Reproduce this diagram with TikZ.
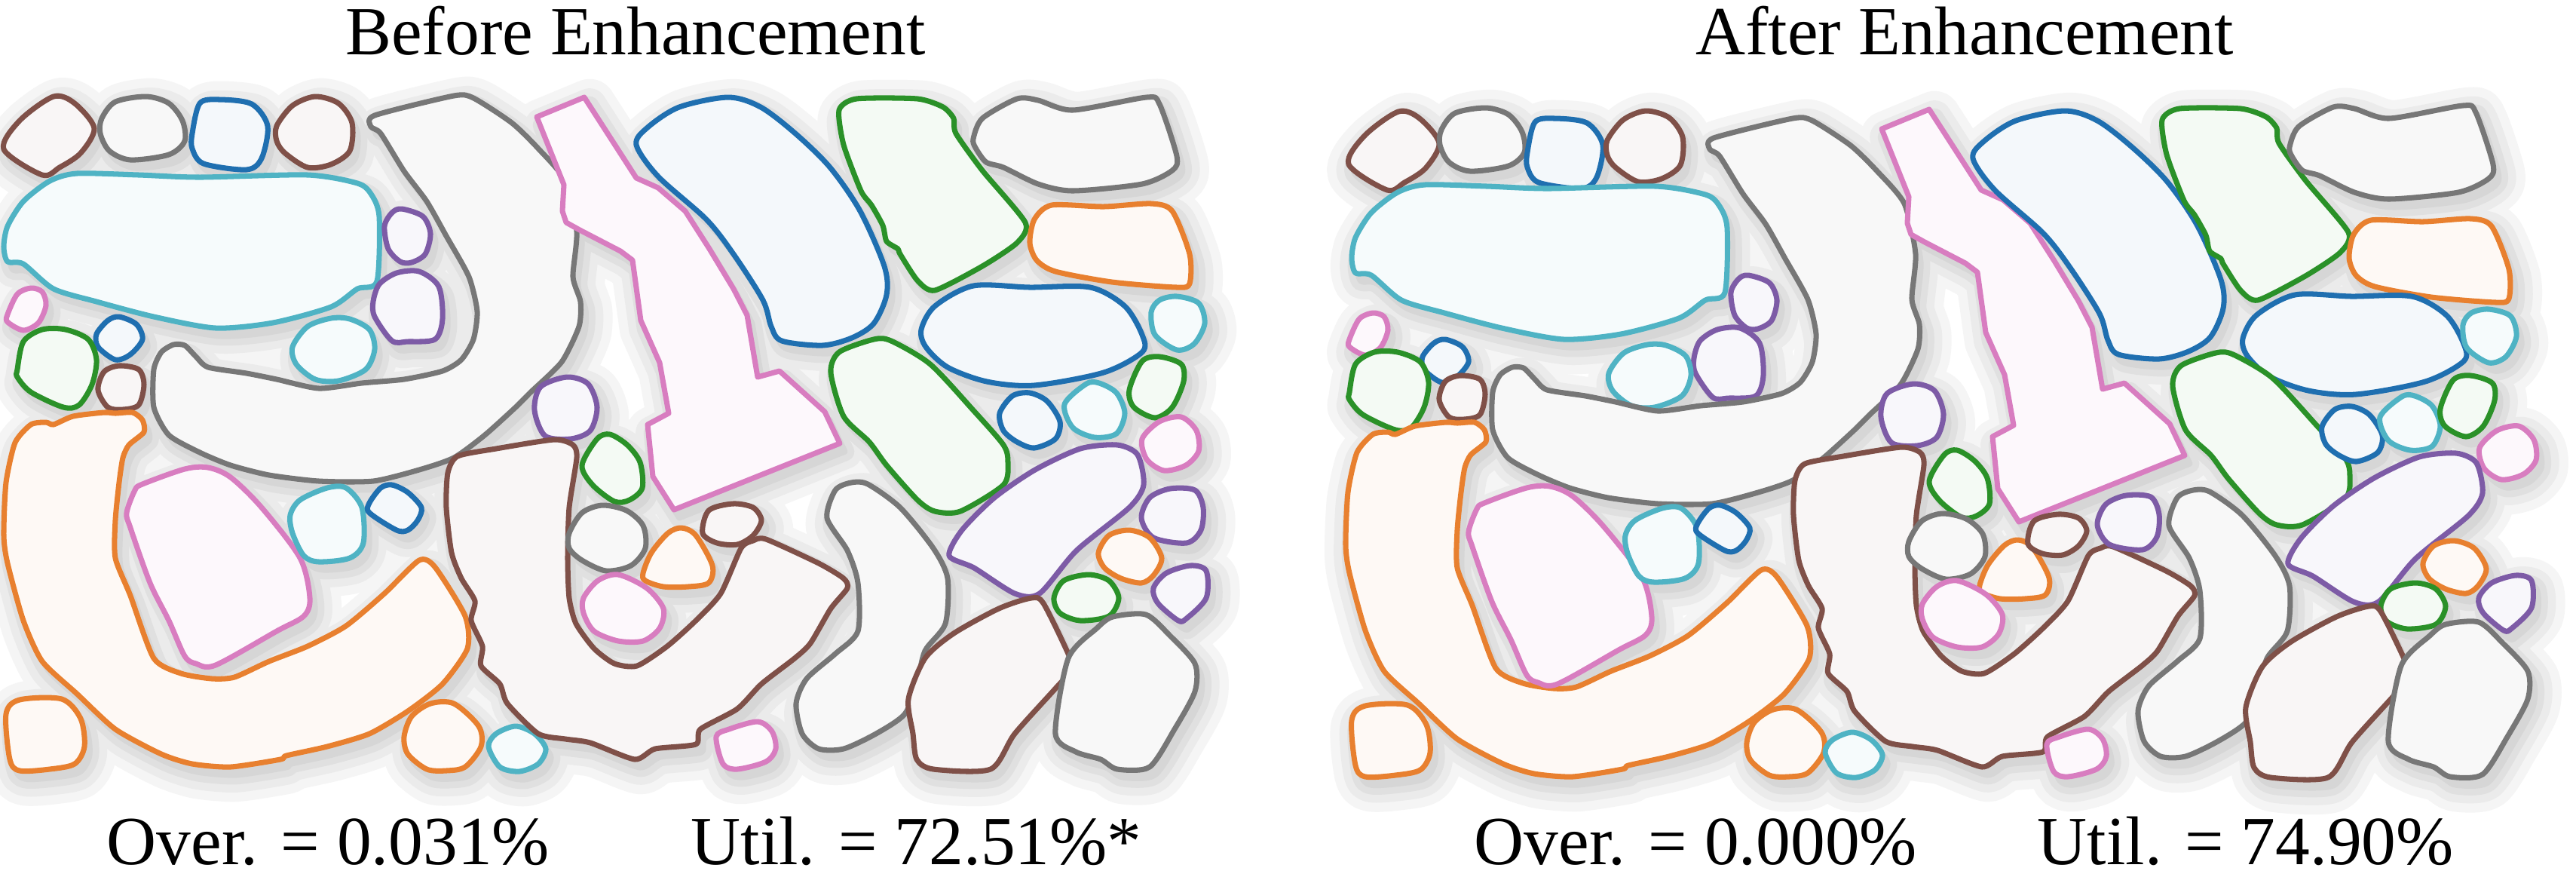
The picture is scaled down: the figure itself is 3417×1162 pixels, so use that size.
\documentclass[tikz,border=0pt]{standalone}
\usepackage{fontspec}
\setmainfont{Liberation Serif}
\definecolor{cb}{HTML}{1F6FB0}
\definecolor{co}{HTML}{E8802F}
\definecolor{cg}{HTML}{2A9128}
\definecolor{cp}{HTML}{D87DC0}
\definecolor{cu}{HTML}{7D5BA6}
\definecolor{cr}{HTML}{7F5048}
\definecolor{cy}{HTML}{777777}
\definecolor{cc}{HTML}{4FB3C4}
\newif\ifrightpanel
\newif\ifshadowpass
\tikzset{
 shadowlvl/.style={},
 shapestyle/.style={draw=#1, fill=#1!5, line width=2pt, line join=round},
 lbl/.style={font=\fontsize{26}{30}\selectfont, inner sep=0pt}
}
\newcommand\SetOff[2]{\expandafter\def\csname off#1\endcsname{#2}}
\newcommand\GetOff[1]{\ifrightpanel\ifcsname off#1\endcsname\edef\myoff{\csname off#1\endcsname}\else\def\myoff{0,0}\fi\else\def\myoff{0,0}\fi}
\newcommand\Sm[4][0.5]{\GetOff{#2}\ifshadowpass
  \path[shift={(\myoff)},shadowlvl] plot[smooth cycle,tension=#1] coordinates {#4};\else
  \path[shift={(\myoff)},shapestyle=#3] plot[smooth cycle,tension=#1] coordinates {#4};\fi}
\newcommand\Pg[3]{\GetOff{#1}\ifshadowpass
  \path[shift={(\myoff)},shadowlvl] plot coordinates {#3} -- cycle;\else
  \path[shift={(\myoff)},shapestyle=#2] plot coordinates {#3} -- cycle;\fi}
% right panel extra offsets
\SetOff{a1}{14,7}\SetOff{a2}{7,2}\SetOff{a3}{1,12}\SetOff{a4}{-5,6}\SetOff{a5}{18,2}
\SetOff{a6}{16,75}\SetOff{a7}{-18,62}\SetOff{a8}{10,20}\SetOff{a9}{-11,17}\SetOff{a10}{-3,17}
\SetOff{a11}{9,0}\SetOff{a12}{-24,22}\SetOff{a13}{6,17}\SetOff{a14}{10,0}\SetOff{a15}{10,12}
\SetOff{a16}{1,14}\SetOff{a17}{-8,14}\SetOff{a18}{15,-5}\SetOff{a19}{11,-5}\SetOff{a20}{3,-5}
\SetOff{a21}{14,3}\SetOff{a22}{3,5}\SetOff{a23}{-15,0}\SetOff{a24}{-24,-2}\SetOff{a25}{-20,7}
\SetOff{a26}{-17,-1}\SetOff{a27}{-30,4}\SetOff{a28}{10,5}\SetOff{a29}{-16,5}\SetOff{a30}{-25,4}
\SetOff{a31}{-31,12}\SetOff{a32}{4,-1}\SetOff{a33}{16,-4}\SetOff{a34}{17,8}\SetOff{a35}{7,-2}
\SetOff{a36}{3,3}\SetOff{a37}{-12,1}\SetOff{a38}{6,-5}\SetOff{a39}{17,-3}\SetOff{a40}{-5,-3}
\SetOff{a41}{10,-3}\SetOff{a42}{6,-2}\SetOff{a44}{-502,-4}\SetOff{a45}{-13,1}\SetOff{a46}{-10,-2}
\SetOff{a47}{-12,0}\SetOff{a48}{4,-2}\SetOff{a49}{-2,-3}
\newcommand\PanelShapes{%
\Sm{a1}{cr}{(5,198) (26,160) (71,128) (99,137) (125,170) (107,203) (79,222) (56,232)}
\Sm{a2}{cy}{(135,157) (153,135) (194,128) (224,137) (242,160) (245,187) (224,205) (173,212) (145,200) (133,177)}
\Sm{a3}{cb}{(255,177) (265,137) (291,132) (334,138) (355,167) (347,210) (327,225) (270,217) (255,197)}
\Sm{a4}{cr}{(367,167) (388,140) (418,128) (449,137) (467,163) (464,200) (439,218) (408,222) (378,203) (367,187)}
\Sm[0.45]{a5}{cc}{(5,327) (10,300) (31,267) (66,240) (102,230) (184,232) (265,235) (408,232) (474,243) (492,257) (503,287) (500,373) (474,383) (439,407) (362,428) (286,435) (204,420) (128,400) (71,383) (31,350) (10,347)}
\Sm{a6}{cu}{(510,300) (520,282) (533,277) (561,287) (571,310) (564,337) (546,348) (531,347) (515,330)}
\Sm{a7}{cu}{(495,400) (503,377) (526,362) (556,360) (582,380) (587,423) (577,450) (541,453) (520,452) (497,420)}
\Sm{a8}{cp}{(10,417) (23,390) (41,382) (56,387) (61,405) (51,428) (31,438) (10,427)}
\Sm{a9}{cb}{(128,443) (143,425) (158,420) (181,430) (189,450) (173,470) (153,477) (130,460)}
\Sm{a10}{cg}{(23,490) (31,453) (56,437) (87,437) (117,450) (128,477) (122,510) (105,537) (84,540) (41,520) (23,500)}
\Sm{a11}{cr}{(130,517) (138,493) (158,485) (184,490) (191,510) (184,537) (163,543) (143,540)}
\Sm{a12}{cc}{(388,460) (408,433) (439,422) (464,423) (490,437) (497,463) (485,490) (449,505) (418,503) (393,483)}
\Sm[0.4]{a13}{cy}{(497,153) (602,127) (628,130) (679,163) (714,197) (750,240) (765,307) (760,367) (770,400) (768,433) (745,480) (704,520) (684,540) (643,577) (602,607) (556,623) (495,638) (423,638) (357,630) (306,617) (265,600) (224,577) (204,540) (204,490) (214,467) (230,457) (245,458) (260,473) (276,487) (327,495) (367,503) (423,515) (480,508) (536,503) (587,492) (612,477) (628,450) (633,413) (622,367) (592,313) (566,267) (536,227) (505,177) (492,168)}
\Sm[0.4]{a14}{co}{(5,710) (8,640) (20,587) (41,563) (61,560) (71,563) (97,552) (138,547) (153,548) (176,547) (189,557) (191,573) (171,590) (163,607) (158,640) (153,690) (153,740) (173,790) (204,873) (240,893) (281,900) (311,898) (357,877) (408,857) (459,830) (510,787) (556,743) (577,752) (617,817) (620,860) (587,907) (541,943) (490,973) (434,990) (380,1002) (372,1007) (306,1017) (255,1013) (214,1000) (153,967) (102,920) (56,877) (31,823) (10,747)}
\Sm{a15}{cp}{(168,680) (179,650) (189,642) (245,622) (276,620) (306,633) (347,673) (398,740) (411,793) (403,817) (367,837) (286,882) (260,880) (245,870) (224,823) (199,773) (173,700)}
\Sm{a16}{cc}{(385,683) (398,663) (434,647) (459,647) (480,673) (482,720) (464,740) (423,745) (403,737) (388,707)}
\Sm{a17}{cb}{(490,667) (505,647) (520,643) (541,653) (559,673) (554,690) (541,703) (526,703) (490,680)}
\Sm{a18}{co}{(8,947) (26,928) (82,927) (107,953) (112,990) (99,1013) (66,1020) (26,1022) (13,1007)}
\Sm{a19}{co}{(536,977) (546,950) (571,933) (602,933) (635,963) (638,990) (617,1017) (592,1022) (566,1020) (541,1000)}
\Sm{a20}{cc}{(648,990) (658,973) (684,963) (709,973) (724,993) (714,1013) (689,1023) (663,1017)}
\Pg{a21}{cp}{(712,155) (775,129) (844,236) (873,249) (909,280) (941,330) (973,383) (991,418) (1005,500) (1034,492) (1094,546) (1114,588) (894,676) (866,632) (859,563) (887,548) (875,481) (850,425) (839,345) (823,333) (769,305) (751,295) (746,280) (748,245)}
\Sm{a22}{cb}{(844,192) (859,169) (901,142) (966,129) (1009,142) (1055,177) (1101,222) (1141,280) (1173,353) (1176,391) (1159,429) (1130,448) (1091,458) (1037,452) (1023,433) (1012,398) (973,337) (937,291) (873,234)}
\Sm[0.4]{a23}{cg}{(1113,146) (1136,131) (1217,131) (1251,142) (1265,157) (1268,177) (1303,226) (1360,295) (1349,322) (1303,353) (1240,385) (1217,372) (1194,337) (1191,330) (1176,320) (1171,299) (1156,272) (1142,253) (1119,192)}
\Sm[0.45]{a24}{cy}{(1291,184) (1303,157) (1349,131) (1377,133) (1423,146) (1521,129) (1538,138) (1561,207) (1555,226) (1515,244) (1423,253) (1377,244) (1331,222) (1308,215) (1294,196)}
\Sm[0.45]{a25}{co}{(1366,322) (1372,291) (1395,272) (1464,274) (1527,270) (1555,280) (1578,337) (1578,376) (1561,381) (1475,374) (1400,360) (1375,345)}
\Sm{a26}{cb}{(1222,437) (1240,406) (1291,379) (1366,381) (1446,381) (1492,406) (1515,444) (1515,467) (1464,494) (1372,511) (1309,506) (1257,487) (1228,460)}
\Sm{a27}{cc}{(1527,414) (1538,398) (1561,393) (1590,402) (1598,429) (1584,456) (1561,464) (1532,444)}
\Sm[0.45]{a28}{cg}{(1102,494) (1113,467) (1159,450) (1182,452) (1234,483) (1291,544) (1331,590) (1337,613) (1331,643) (1274,678) (1240,678) (1217,663) (1176,617) (1153,586) (1119,552)}
\Sm{a29}{cb}{(1326,548) (1343,525) (1366,521) (1389,532) (1406,559) (1400,582) (1372,594) (1349,586) (1331,571)}
\Sm{a30}{cc}{(1412,536) (1441,509) (1458,508) (1481,521) (1492,548) (1481,575) (1452,580) (1423,567)}
\Sm{a31}{cg}{(1498,517) (1515,479) (1538,473) (1567,483) (1570,506) (1555,540) (1532,554) (1504,540)}
\Sm{a32}{cp}{(1515,582) (1538,559) (1567,553) (1587,571) (1590,598) (1573,617) (1544,624) (1521,609)}
\Sm{a33}{cu}{(709,544) (717,513) (752,500) (780,509) (792,540) (783,571) (757,582) (723,578)}
\Sm{a34}{cg}{(772,617) (792,582) (809,576) (832,590) (849,613) (852,647) (835,663) (815,665) (786,643)}
\Sm[0.4]{a39}{cr}{(607,605) (658,595) (735,583) (760,590) (765,607) (755,673) (753,740) (755,793) (764,827) (788,860) (815,880) (845,883) (885,857) (923,823) (956,787) (983,727) (999,717) (1016,715) (1086,747) (1119,767) (1124,780) (1102,807) (1075,853) (1054,873) (1010,907) (978,940) (929,967) (923,987) (869,993) (842,1007) (783,985) (750,980) (714,973) (673,933) (663,907) (638,883) (640,857) (625,823) (630,797) (612,767) (599,733) (592,673) (594,627)}
\Sm{a35}{cy}{(755,707) (772,680) (799,670) (831,677) (853,697) (856,727) (837,750) (804,757) (772,743) (755,727)}
\Sm{a36}{co}{(853,760) (864,733) (886,707) (904,700) (923,710) (945,750) (940,773) (913,778) (880,778) (856,770)}
\Sm{a37}{cr}{(932,707) (940,677) (972,668) (999,673) (1010,690) (999,710) (978,722) (951,720)}
\Sm{a38}{cp}{(774,793) (793,770) (820,762) (858,780) (880,807) (875,833) (853,850) (820,850) (788,837) (774,813)}
\Sm{a40}{cp}{(950,977) (967,967) (1005,957) (1024,970) (1029,993) (1016,1010) (978,1020) (959,1013)}
\Sm[0.45]{a41}{cy}{(1097,687) (1108,650) (1129,640) (1151,642) (1194,673) (1238,727) (1257,767) (1254,827) (1227,863) (1216,907) (1200,947) (1162,973) (1119,993) (1086,993) (1064,973) (1056,933) (1070,900) (1108,867) (1138,837) (1138,773) (1124,730)}
\Sm[0.45]{a42}{cu}{(1259,737) (1276,703) (1319,660) (1373,623) (1433,595) (1482,590) (1509,603) (1517,643) (1498,673) (1428,730) (1379,787) (1346,787) (1292,753)}
\Sm{a44}{cu}{(1514,687) (1525,660) (1552,648) (1585,650) (1596,673) (1593,703) (1574,720) (1530,713)}
\Sm{a45}{co}{(1457,733) (1471,710) (1498,703) (1525,713) (1541,740) (1530,763) (1514,773) (1487,767) (1465,753)}
\Sm{a46}{cg}{(1398,793) (1411,770) (1444,762) (1471,770) (1484,793) (1471,817) (1433,823) (1406,813)}
\Sm{a47}{cu}{(1530,780) (1547,760) (1579,750) (1600,757) (1600,793) (1574,820) (1563,823) (1536,800)}
\Sm[0.45]{a48}{cr}{(1211,973) (1205,927) (1227,873) (1265,840) (1325,807) (1368,793) (1384,800) (1417,867) (1422,887) (1400,913) (1346,973) (1314,1020) (1238,1020) (1216,1007)}
\Sm[0.45]{a49}{cy}{(1400,973) (1417,873) (1455,833) (1476,818) (1520,815) (1552,843) (1585,880) (1585,917) (1558,967) (1525,1017) (1482,1020) (1460,1007) (1427,997)}
}
\newcommand\BothPanels{%
\rightpanelfalse
\PanelShapes
\begin{scope}[shift={(1770,13)}]
\rightpaneltrue
\PanelShapes
\end{scope}}
\begin{document}
\begin{tikzpicture}[x=0.01cm,y=-0.01cm]
\useasboundingbox (0,0) rectangle (3417,1162);
\fill[white] (0,0) rectangle (3417,1162);
% soft shadows, drawn in layers from light to dark
\shadowpasstrue
\tikzset{shadowlvl/.style={shift={(7,11)},draw=black!4,fill=black!4,line width=20pt,line join=round}}
\BothPanels
\tikzset{shadowlvl/.style={shift={(7,11)},draw=black!8,fill=black!8,line width=13pt,line join=round}}
\BothPanels
\tikzset{shadowlvl/.style={shift={(7,11)},draw=black!12,fill=black!12,line width=7pt,line join=round}}
\BothPanels
\tikzset{shadowlvl/.style={shift={(7,11)},draw=black!16,fill=black!16,line width=2pt,line join=round}}
\BothPanels
% shapes
\shadowpassfalse
\BothPanels
% texts
\node[lbl, anchor=base] (t1) at (843,72) {Before Enhancement};
\node[lbl, anchor=base] (t2) at (2606,72) {After Enhancement};
\node[lbl, anchor=base west] (o1) at (141,1146) {Over. = 0.031\%};
\node[lbl, anchor=base west] (u1) at (916,1146) {Util. = 72.51\%*};
\node[lbl, anchor=base west] (o2) at (1955,1146) {Over. = 0.000\%};
\node[lbl, anchor=base west] (u2) at (2702,1146) {Util. = 74.90\%};
\end{tikzpicture}
\end{document}
